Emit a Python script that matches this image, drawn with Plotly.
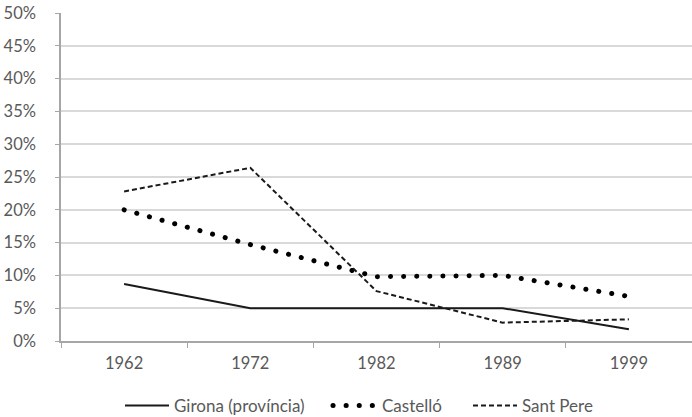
import plotly.graph_objects as go

years = ["1962", "1972", "1982", "1989", "1999"]
girona = [0.087, 0.050, 0.050, 0.050, 0.018]
castello = [0.200, 0.147, 0.098, 0.100, 0.068]
sant_pere = [0.228, 0.264, 0.076, 0.028, 0.033]
y_ticks = [0, 0.05, 0.10, 0.15, 0.20, 0.25, 0.30, 0.35, 0.40, 0.45, 0.50]

fig = go.Figure()
fig.add_trace(go.Scatter(x=years, y=girona, mode="lines", name="Girona (província)",
                         line=dict(color="#1a1a1a", width=2), legend="legend"))
fig.add_trace(go.Scatter(x=years, y=castello, mode="lines", name="Castelló",
                         line=dict(color="#000000", width=5, dash="5px,8px"), legend="legend2"))
fig.add_trace(go.Scatter(x=years, y=sant_pere, mode="lines", name="Sant Pere",
                         line=dict(color="#1a1a1a", width=2, dash="5px,3px"), legend="legend3"))

def leg(xpx):
    return dict(orientation="h", x=xpx / 692, xanchor="left", xref="container",
                y=11 / 417, yanchor="middle", yref="container", borderwidth=0,
                font=dict(size=17, color="#595959"), itemwidth=44, bgcolor="rgba(0,0,0,0)")

fig.update_layout(
    width=692, height=417,
    margin=dict(l=61, r=0, t=13, b=76, autoexpand=False),
    paper_bgcolor="white", plot_bgcolor="white",
    font=dict(family="Lato, Open Sans, sans-serif", size=16.5, color="#595959"),
    showlegend=True,
    legend=leg(120), legend2=leg(328), legend3=leg(468),
    xaxis=dict(type="category", showgrid=False, showline=True, linecolor="#a6a6a6", linewidth=1.5,
               ticks="outside", ticklen=5, tickcolor="#a6a6a6", tickson="boundaries",
               range=[-0.5, 4.5], ticklabelstandoff=6, automargin=False),
    yaxis=dict(range=[0, 0.5], tickvals=y_ticks, tickformat=".0%", showgrid=True,
               gridcolor="#d9d9d9", gridwidth=1.5, showline=True, linecolor="#a6a6a6", linewidth=1.5,
               ticks="outside", ticklen=4, tickcolor="#a6a6a6", zeroline=False,
               ticklabelstandoff=16, automargin=False),
)

post = """
document.body.style.margin = '0';
document.body.style.padding = '0';
var gd = document.getElementsByClassName('plotly-graph-div')[0];
function rc(){
  var t = gd.querySelectorAll('.scatterlayer .trace');
  if (t.length > 1) { t[1].querySelectorAll('path.js-line').forEach(function(p){p.style.strokeLinecap='round'; p.style.strokeDasharray='0.1px,13px';}); }
  var l = gd.querySelectorAll('.legend2 .traces, .legend2 path.js-line');
  gd.querySelectorAll('.legend2 path.js-line').forEach(function(p){p.style.strokeLinecap='round'; p.style.strokeDasharray='0.1px,13px';});
}
rc();
gd.on('plotly_afterplot', rc);
"""
fig.write_html("out.html", post_script=post, config={"displayModeBar": False})
